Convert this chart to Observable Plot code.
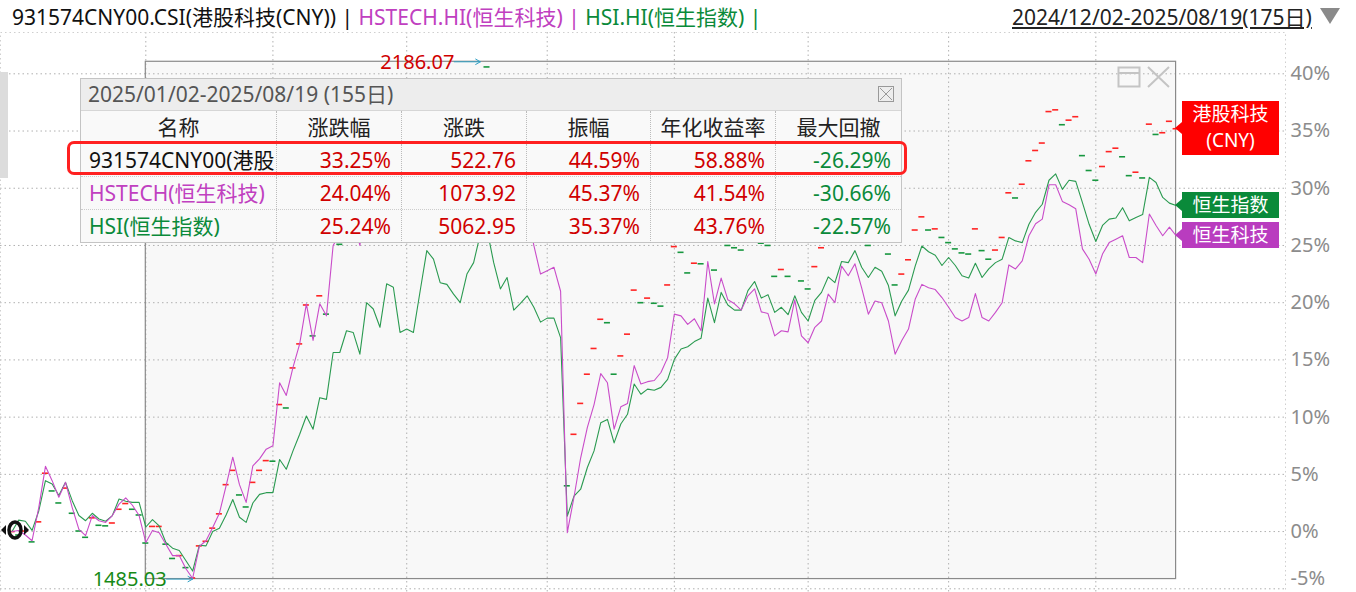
<!DOCTYPE html>
<html><head><meta charset="utf-8">
<script src="https://cdn.jsdelivr.net/npm/d3@7"></script>
<script src="https://cdn.jsdelivr.net/npm/@observablehq/plot@0.6"></script>
<style>
body{margin:0;width:1356px;height:592px;overflow:hidden;background:#fff;position:relative;font-family:"Noto Sans","Noto Sans CJK SC",sans-serif}
#chart{position:absolute;left:0;top:0}
.abs{position:absolute}
#hdr{left:12px;top:2px;font-size:21px;line-height:30px;white-space:nowrap;color:#111}
#range{left:1012px;top:2px;font-size:21px;line-height:30px;color:#222;text-decoration:underline;white-space:nowrap}
#tri{left:1320px;top:8px;width:0;height:0;border-left:10px solid transparent;border-right:10px solid transparent;border-top:16px solid #8a8a8a}
#tbl{left:80px;top:78px;width:820px;height:163px;border:1px solid #c4c4c4;background:#f9f9f9}
#tbl .title{height:32px;box-sizing:border-box;background:#ededed;border-bottom:1px solid #d6d6d6;color:#555;font-size:21px;line-height:31px;padding-left:7px;position:relative}
#tbl .row{display:flex;height:33px;box-sizing:border-box;line-height:32px;font-size:21px}
#tbl .row>div{box-sizing:border-box;border-left:1px dotted #bbb;text-align:right;padding-right:10px;white-space:nowrap;overflow:hidden}
#tbl .row>div:first-child{border-left:none;text-align:left;padding-left:8px;padding-right:0}
#tbl .hd>div{text-align:center !important;padding:0 !important;color:#222}
#hl{left:67px;top:141px;width:840px;height:34px;box-sizing:border-box;border:3px solid #ff2020;border-radius:7px}
.tag{position:absolute;left:1182px;width:97px;color:#fff;font-size:19px;text-align:center;box-sizing:border-box}
.tagtri{position:absolute;left:1175px;width:0;height:0;border-top:6px solid transparent;border-bottom:6px solid transparent;border-right:7px solid}
</style></head><body>
<div id="chart"></div>
<script>
// ---- data (percent change vs. 2024/12/02, per trading day, index 0..174) ----
const hstech = [
0,0.1,-0.3,-0.8,2.1,5.7,4.45,3.0,4.3,2.1,
0.2,-0.35,1.4,0.95,0.8,1.4,2.4,2.95,2.3,1.4,
-0.95,0.1,-0.1,-1.1,-2.1,-2.1,-3.25,-4.1,-1.3,-0.8,
0.35,1.6,4.0,6.5,4.1,2.55,5.75,6.35,7.2,7.5,
13.0,11.9,14.35,16.4,19.9,16.7,19.9,18.85,25.0,26.0,
27.8,27.2,25.0,30.0,29.5,27.5,32.0,31.5,27.0,27.5,
27.0,31.0,35.0,34.0,31.5,31.3,30.0,29.0,32.0,33.5,
37.0,37.5,34.0,31.0,32.0,28.5,29.0,28.0,25.0,22.5,
22.8,23.1,21.0,-0.1,3.0,6.45,9.1,11.1,13.8,13.0,
8.95,10.9,11.2,14.5,12.9,13.1,13.2,13.9,15.2,19.0,
18.85,18.1,18.6,17.55,23.6,19.9,22.15,20.25,19.9,19.35,
20.6,21.2,19.2,19.05,17.1,17.55,17.45,20.25,17.1,16.5,
17.85,18.4,20.75,20.0,23.2,22.35,23.4,21.3,19.0,20.15,
20.0,18.4,15.5,16.7,17.7,20.3,21.6,21.3,21.15,20.45,
19.6,18.7,18.4,18.7,20.8,18.7,18.4,19.15,20.0,23.3,
22.95,23.65,25.85,26.9,27.3,30.3,30.3,28.85,28.55,28.2,
24.7,23.8,22.5,24.25,25.25,25.55,25.85,23.95,23.95,23.5,
27.75,26.75,25.85,26.6,25.85];
const hsi = [
0,1.0,0.9,0.1,1.8,4.45,4.15,3.15,4.3,2.7,
1.4,0.95,1.6,1.1,0.9,1.4,2.85,2.65,2.55,2.55,
0.4,1.05,0.5,-0.95,-1.45,-1.65,-2.55,-3.45,-1.2,-1.25,
0,0.3,1.45,2.8,1.25,0.8,2.5,3.25,3.4,3.4,
6.3,5.45,7.05,8.5,10.1,8.95,11.7,11.55,15.65,15.65,
17.55,17.4,15.5,20.0,19.45,17.85,21.65,21.35,17.4,17.7,
17.4,21.0,24.55,23.8,21.75,21.6,20.75,20.0,22.5,23.5,
26.0,26.4,23.5,21.2,22.2,19.35,19.95,20.6,19.6,18.3,
18.65,18.65,16.95,1.35,3.1,3.7,5.6,7.05,9.5,9.8,
7.75,9.4,10.25,12.9,12.0,12.45,12.35,12.6,13.3,15.05,
15.95,16.15,16.6,16.9,20.4,18.25,20.9,19.8,19.35,19.35,
21.05,21.85,20.4,20.7,19.15,19.6,18.95,20.6,19.15,18.4,
20.2,20.9,22.25,21.75,23.6,23.5,24.55,23.1,22.2,23.1,
22.75,21.5,18.85,20.15,21.1,23.2,24.95,24.45,24.15,23.25,
23.95,23.25,22.35,22.15,23.45,22.2,22.95,23.5,23.8,25.7,
25.4,25.25,26.85,27.9,28.6,30.7,31.25,29.9,30.7,30.6,
28.75,26.85,25.35,26.75,27.3,27.4,28.3,27.15,27.45,27.7,
30.95,30.5,29.2,28.7,28.5];
const cny = [
0,-0.3,0.05,-0.9,0.85,5.1,3.55,2.5,3.8,1.6,
0.05,-0.5,1.2,0.55,0.5,0.75,1.95,2.45,1.95,1.45,
-1.0,0.45,0.45,-1.1,-2.35,-2.1,-3.15,-4.05,-1.25,-0.85,
0.3,1.55,4.1,5.35,3.2,2.15,4.3,5.35,6.2,6.15,
11.1,10.8,14.3,16.4,19.8,17.1,20.6,19.0,26.5,25.1,
28.5,28.0,26.0,31.0,30.8,29.0,33.5,33.2,28.8,29.5,
29.2,33.0,37.2,36.4,34.0,34.0,33.0,32.0,35.3,36.8,
39.0,40.6,37.5,34.6,35.6,32.2,32.8,32.0,28.8,27.0,
27.4,27.8,26.5,4.0,8.5,11.2,13.75,16.0,18.55,18.25,
13.75,15.35,17.25,21.1,20.0,20.4,19.95,19.7,21.55,24.9,
24.4,22.6,23.45,23.4,27.8,22.85,26.5,25.0,24.8,24.6,
25.8,26.4,25.2,25.0,22.3,22.9,22.3,25.4,21.9,21.2,
23.15,24.8,26.8,26.2,28.5,27.9,28.8,27.0,25.0,25.8,
25.6,24.25,21.55,22.5,23.75,26.35,27.5,26.35,26.45,25.7,
25.25,24.7,24.35,24.25,26.45,24.55,23.8,24.6,25.7,29.6,
29.15,30.35,32.4,33.3,33.95,36.7,36.85,35.55,35.95,36.25,
32.85,31.55,30.7,31.9,33.2,33.5,32.75,31.1,31.4,30.9,
35.6,34.7,34.85,35.85,35.2];
// candle colour of each 931574CNY00 dash: r = up, g = down
const cnyDir = ["rgrgrrggrg","ggrggrrrgg","grrggrgrrr","rrrrggrrrg","rgrrrgrgrg",
"rggrggrggr","grrggrggrr","rgggrgrggg","rrggrrrrrg","grrrgrggrr",
"ggrgrgrggg","rrgggrgrgg","rrrgrgrggr","gggrrrrgrg","ggggrggrrr",
"grrrrrrgrr","gggrrrggrg","rgrrr"].join("");
const monthStarts = [20,39,59,80,99,119,140,162];
const yTicks = [-5,0,5,10,15,20,25,30,35,40];
const extremes = [{i:70, v:41.05, text:"2186.07", kind:"max"}, {i:27, v:-4.15, text:"1485.03", kind:"min"}];
const selection = {i1:20, i2:174};
const legendParts = [["931574CNY00.CSI(港股科技(CNY)) | ","#111"],["HSTECH.HI(恒生科技) | ","#c040c0"],["HSI.HI(恒生指数) |","#0a8a3a"]];
const dateRange = "2024/12/02-2025/08/19(175日)";
const tableTitle = "2025/01/02-2025/08/19 (155日)";
const tableCols = ["名称","涨跌幅","涨跌","振幅","年化收益率","最大回撤"];
const tableNames = ["931574CNY00(港股","HSTECH(恒生科技)","HSI(恒生指数)"];
const chgPct = ["33.25%","24.04%","25.24%"];
const chgAbs = ["522.76","1073.92","5062.95"];
const ampl = ["44.59%","45.37%","35.37%"];
const annual = ["58.88%","41.54%","43.76%"];
const maxDD = ["-26.29%","-30.66%","-22.57%"];
const tagLabels = ["港股科技<br>(CNY)","恒生指数","恒生科技"];

// ---- colours ----
const RED="#ff2424", GRN="#17973f", MAG="#c94cc9", HSIC="#2a9a50", NAMEC=["#111","#c040c0","#0a8a3a"];
const FONT = "'Noto Sans','Noto Sans CJK SC',sans-serif";

const data = hstech.map((v,i)=>({i, hstech:v, hsi:hsi[i], cny:cny[i], dir:cnyDir[i]}));
const sel = {i1:selection.i1, i2:selection.i2, lo:d3.min(extremes,d=>d.v), hi:d3.max(extremes,d=>d.v)};
const dotted = {stroke:"#b0b0b0", strokeDasharray:"1.5,3", strokeWidth:1};

const chart = Plot.plot({
  width:1356, height:592,
  marginLeft:0, marginRight:71, marginTop:32, marginBottom:0,
  x:{domain:[0,174], range:[11.5,1175.6], axis:null},
  y:{domain:[-5,40], range:[588.3,73.3], axis:null},
  style:{background:"transparent", fontFamily:FONT},
  marks:[
    Plot.rect([sel],{x1:"i1",x2:"i2",y1:"lo",y2:"hi",fill:"#f8f8f8"}),
    Plot.gridY(yTicks,{...dotted, strokeOpacity:1}),
    Plot.ruleX(monthStarts,{...dotted}),
    Plot.frame({stroke:"#cfcfcf", strokeDasharray:"1.5,3"}),
    Plot.rect([sel],{x1:"i1",x2:"i2",y1:"lo",y2:"hi",fill:"none",stroke:"#8a8a8a",strokeWidth:1.2}),
    Plot.ruleY(data,{y:"cny", x1:d=>d.i-0.45, x2:d=>d.i+0.45, stroke:d=>d.dir==="r"?RED:GRN, strokeWidth:1.6}),
    Plot.line(data,{x:"i",y:"hsi",stroke:HSIC,strokeWidth:1.1}),
    Plot.line(data,{x:"i",y:"hstech",stroke:MAG,strokeWidth:1.1}),
    Plot.text(yTicks.filter(t=>t>-5),{y:d=>d,frameAnchor:"right",dx:5,textAnchor:"start",text:d=>d+"%",fontSize:20,fill:"#8c8c8c"}),
    Plot.text(yTicks.filter(t=>t===-5),{y:d=>d,frameAnchor:"right",dx:5,dy:-10,textAnchor:"start",text:d=>d+"%",fontSize:20,fill:"#8c8c8c"}),
    Plot.arrow(extremes,{x1:d=>d.i-3.9,x2:"i",y1:"v",y2:"v",stroke:"#2e9fc4",strokeWidth:1,headLength:8,bend:0}),
    Plot.text(extremes,{x:"i",y:"v",text:"text",textAnchor:"end",dx:-26,dy:1,fontSize:20,fill:d=>d.kind==="max"?"#d00000":"#178a17"})
  ]
});
document.getElementById("chart").appendChild(chart);

// ---- header ----
const hdr = document.createElement("div"); hdr.id="hdr"; hdr.className="abs";
hdr.innerHTML = legendParts.map(([t,c])=>`<span style="color:${c}">${t}</span>`).join("");
document.body.appendChild(hdr);
const rg = document.createElement("div"); rg.id="range"; rg.className="abs"; rg.textContent=dateRange; document.body.appendChild(rg);
const tri = document.createElement("div"); tri.id="tri"; tri.className="abs"; document.body.appendChild(tri);

// left sidebar remnant and cursor icon
const sb = document.createElement("div"); sb.className="abs";
sb.style.cssText="left:0;top:72px;width:8px;height:106px;background:#dcdcdc"; document.body.appendChild(sb);
const cur = document.createElement("div"); cur.className="abs";
cur.style.cssText="left:0;top:517px";
cur.innerHTML=`<svg width="30" height="26"><path d="M1 13 L6 8 L6 18 Z" fill="#111"/><ellipse cx="15" cy="13" rx="6" ry="8" fill="none" stroke="#111" stroke-width="3.5"/><path d="M29 13 L24 8 L24 18 Z" fill="#111"/></svg>`;
document.body.appendChild(cur);

// window icons in the selection box
const ic = document.createElement("div"); ic.className="abs"; ic.style.cssText="left:1116px;top:64px";
ic.innerHTML = `<svg width="58" height="26"><rect x="2.5" y="3.5" width="21" height="19" fill="none" stroke="#c4c4c4" stroke-width="2"/><line x1="2" y1="9" x2="24" y2="9" stroke="#c4c4c4" stroke-width="2"/><path d="M32 3 L53 23 M53 3 L32 23" stroke="#c4c4c4" stroke-width="2"/></svg>`;
document.body.appendChild(ic);

// ---- table ----
const widths=[195,125,125,124,125,126];
const tbl=document.createElement("div"); tbl.id="tbl"; tbl.className="abs";
let h=`<div class="title">${tableTitle}<svg style="position:absolute;left:797px;top:7px" width="16" height="16"><rect x="0.5" y="0.5" width="15" height="15" fill="none" stroke="#999"/><path d="M2 2L14 14M14 2L2 14" stroke="#999"/></svg></div>`;
h+=`<div class="row hd" style="border-bottom:1px dotted #ccc">`+tableCols.map((c,k)=>`<div style="width:${widths[k]}px">${c}</div>`).join("")+`</div>`;
tableNames.forEach((n,r)=>{
  const cells=[n,chgPct[r],chgAbs[r],ampl[r],annual[r],maxDD[r]];
  const cols=[NAMEC[r],"#d00000","#d00000","#d00000","#d00000","#0a8a3a"];
  h+=`<div class="row" style="${r<2?'border-bottom:1px dotted #ccc':''}">`+cells.map((c,k)=>`<div style="width:${widths[k]}px;color:${cols[k]}">${c}</div>`).join("")+`</div>`;
});
tbl.innerHTML=h; document.body.appendChild(tbl);
const hl=document.createElement("div"); hl.id="hl"; hl.className="abs"; document.body.appendChild(hl);

// ---- right-side tags at the last value of each series ----
const ys = chart.scale("y");
const last = [cny[cny.length-1], hsi[hsi.length-1], hstech[hstech.length-1]];
const tagCol = ["#ff0000","#0a8a3a","#b93cbf"];
const tagH = [54,26,26];
last.forEach((v,k)=>{
  const y = ys.apply(v);
  const t=document.createElement("div"); t.className="tag";
  t.style.cssText=`top:${y-tagH[k]/2}px;height:${tagH[k]}px;line-height:26px;background:${tagCol[k]}`;
  t.innerHTML=tagLabels[k]; document.body.appendChild(t);
  const a=document.createElement("div"); a.className="tagtri";
  a.style.cssText=`top:${y-6}px;border-right-color:${tagCol[k]}`; document.body.appendChild(a);
});
</script>
</body></html>
